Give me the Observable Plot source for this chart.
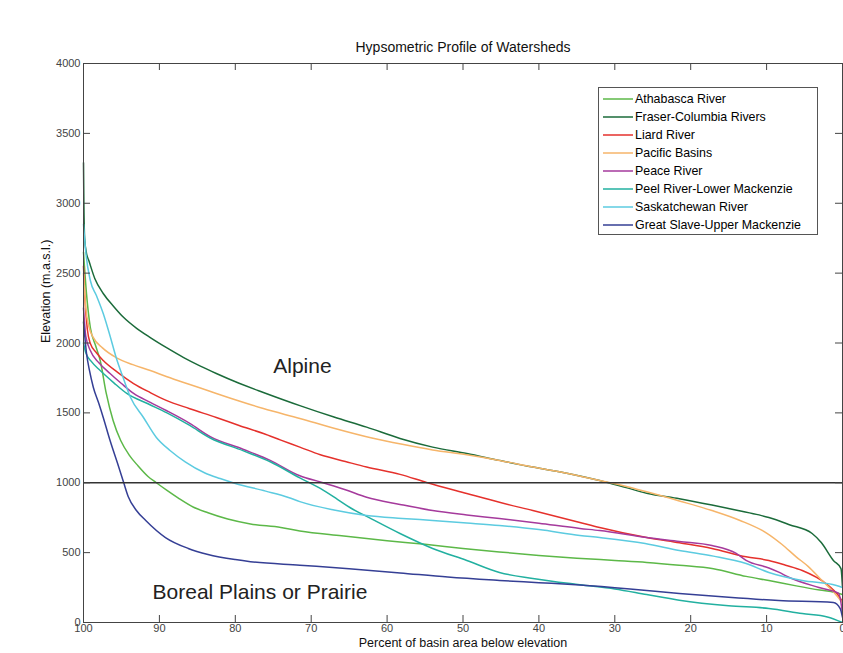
<!DOCTYPE html>
<html>
<head>
<meta charset="utf-8">
<script src="https://cdn.jsdelivr.net/npm/d3@7"></script>
<script src="https://cdn.jsdelivr.net/npm/@observablehq/plot@0.6"></script>
<style>
  body { margin: 0; background: #fff; font-family: "Liberation Sans", Arial, sans-serif; }
  #wrap { position: relative; width: 843px; height: 653px; overflow: hidden; }
  #legend { position: absolute; left: 598px; top: 87px; width: 220px; height: 148px; box-sizing: border-box;
            border: 1px solid #555; background: #fff; }
  .row { position: absolute; left: 0; height: 18px; line-height: 18px; font-size: 12.4px; color: #000; white-space: nowrap; }
  .row svg { position: absolute; left: 4px; top: 0; }
  .row span { position: absolute; left: 36px; top: 0; }
</style>
</head>
<body>
<div id="wrap"><div id="chart"></div><div id="legend"></div></div>
<script>
// ---- data (percent of basin area below elevation, elevation m.a.s.l.) ----
const seriesNames = [
  "Athabasca River", "Fraser-Columbia Rivers", "Liard River", "Pacific Basins",
  "Peace River", "Peel River-Lower Mackenzie", "Saskatchewan River", "Great Slave-Upper Mackenzie"
];
const seriesColors = ["#5cb848", "#1b6b3a", "#e5312c", "#f6b56a", "#a53a9c", "#22b0a0", "#5ccbe0", "#353f95"];

const athabasca = [[100,2650],[99.6,2350],[99.1,2111],[98.4,1980],[97.8,1875],[97,1639],[96.1,1445],[95.1,1302],[94,1200],[92.8,1120],[91.5,1045],[90.4,1000],[89,945],[87.5,890],[85.5,825],[83.6,785],[81,740],[78,705],[74,680],[71.5,655],[66,620],[60,585],[55,560],[50,530],[45.2,505],[40,480],[35,460],[30,444],[25.8,430],[21.5,410],[17,385],[12.7,330],[9.7,300],[6.1,262],[3,232],[1,215],[0,200]];
const fraser = [[100,3290],[99.95,3000],[99.85,2750],[99.6,2640],[99.3,2590],[98.5,2460],[97.4,2354],[96,2260],[94.7,2182],[93,2105],[91.2,2039],[89,1965],[86.8,1896],[84.6,1835],[82.5,1782],[79.5,1712],[76.3,1646],[71.4,1550],[67,1470],[62.7,1398],[58.3,1317],[54,1255],[49.5,1209],[45.2,1160],[40.8,1112],[36,1065],[32,1016],[28.5,965],[25.8,925],[21.5,885],[17.2,840],[13.6,800],[11,770],[9.7,751],[7,700],[4,637],[2.8,572],[1.2,444],[0.2,386],[0,250]];
const liard = [[100,2550],[99.85,2350],[99.5,2100],[99.1,1996],[98.3,1930],[97.4,1875],[95.5,1790],[93.4,1710],[91.2,1645],[89.1,1589],[86,1530],[82.5,1467],[79.5,1410],[76.3,1352],[74,1305],[71.5,1255],[68.8,1200],[65.5,1152],[62.7,1112],[58.3,1060],[54.8,1002],[49.5,923],[45.2,860],[40.8,801],[34.6,716],[32,680],[25.8,608],[21.5,570],[17.2,530],[12.7,470],[9.7,444],[7.5,410],[5.3,372],[2.2,279],[0.5,190],[0,150]];
const pacific = [[100,2500],[99.7,2250],[99.3,2120],[98.7,2039],[97.5,1965],[95.7,1896],[93.5,1845],[91.2,1803],[89,1758],[86.8,1717],[84.6,1678],[82.5,1639],[79.5,1585],[76.3,1531],[71.5,1460],[67,1390],[62,1320],[58,1275],[54,1235],[49.5,1200],[45.2,1160],[40.8,1112],[36,1065],[32,1016],[29,980],[25.8,935],[21.5,870],[17.2,801],[13.5,730],[10,640],[8,560],[6.1,470],[4.5,400],[2.7,300],[1.2,220],[0,140]];
const peace = [[100,2250],[99.7,2050],[99.1,1946],[98,1860],[96.5,1782],[95,1710],[93.4,1639],[91.2,1575],[89.1,1517],[86,1425],[83.3,1330],[79,1240],[75.4,1160],[71.5,1050],[68.8,1005],[65.5,950],[62.7,896],[58.3,845],[54,801],[49.5,770],[45.2,744],[40,710],[34.6,673],[32,658],[25.8,608],[21.5,580],[17.2,551],[14,494],[12.7,444],[9.7,390],[8.4,360],[7,322],[3.1,250],[0.5,208],[0,64]];
const peel = [[100,2000],[99.7,1930],[99,1870],[97.8,1803],[96,1715],[94.3,1639],[91.5,1565],[89,1500],[86,1410],[83.3,1320],[79,1230],[75.4,1150],[71.5,1035],[68.8,960],[66.5,880],[64.9,823],[62,740],[58.3,637],[54,530],[49.5,444],[45.2,358],[40.8,315],[34.6,270],[30,240],[25.8,200],[21.5,160],[15,120],[9.7,100],[5.3,64],[2,40],[0,0]];
const saskatchewan = [[100,2850],[99.7,2650],[99.1,2447],[98.3,2340],[97.4,2211],[96.5,2050],[95.7,1896],[94.7,1740],[93.8,1610],[92.1,1467],[90.4,1324],[88.6,1231],[86.6,1150],[84,1070],[82,1030],[80,995],[76,940],[73,895],[71.5,865],[67,805],[62.7,766],[58,745],[54,730],[49.5,712],[45.2,694],[40,665],[34.6,623],[32,608],[26,565],[21.5,515],[17,475],[12.7,422],[9.7,358],[5.3,300],[0.8,265],[0,250]];
const greatSlave = [[100,2150],[99.6,1925],[99.2,1800],[98.7,1682],[98,1570],[97.4,1467],[96.5,1302],[95.4,1120],[94.7,1000],[94.1,900],[93,800],[91.8,730],[89.2,608],[86.2,530],[83.6,487],[80,450],[78,435],[71.5,410],[65,385],[58.3,355],[52,325],[45.2,301],[40,285],[34.6,268],[28,240],[21.5,208],[15,180],[8.4,157],[1.2,143],[0.3,100],[0,36]];

const xTicks = [100, 90, 80, 70, 60, 50, 40, 30, 20, 10, 0];
const yTicks = [0, 500, 1000, 1500, 2000, 2500, 3000, 3500, 4000];
const thresholdElev = [1000];
const notes = ["Alpine", "Boreal Plains or Prairie"];
const notePct = [75, 90.9];
const noteElev = [1832, 215];
const titleText = "Hypsometric Profile of Watersheds";
const xLabel = "Percent of basin area below elevation";
const yLabel = "Elevation (m.a.s.l.)";

// ---- build table ----
const seriesData = [athabasca, fraser, liard, pacific, peace, peel, saskatchewan, greatSlave];
const rows = seriesNames.flatMap((name, i) => seriesData[i].map(([pct, elev]) => ({ series: name, pct, elev })));
const noteRows = notes.map((t, i) => ({ t, pct: notePct[i], elev: noteElev[i] }));

const W = 843, H = 653, mT = 63, mB = 31, mL = 83, mR = 1;
const frameH = H - mT - mB, frameW = W - mL - mR, tick = 7;
const font = "'Liberation Sans', Arial, Helvetica, sans-serif";

const chart = Plot.plot({
  width: W, height: H,
  marginTop: mT, marginBottom: mB, marginLeft: mL, marginRight: mR,
  style: { fontFamily: font, fontSize: "11px", background: "#fff", color: "#333" },
  x: { domain: [100, 0] },
  y: { domain: [0, 4000] },
  color: { domain: seriesNames, range: seriesColors },
  marks: [
    Plot.line(rows, { x: "pct", y: "elev", stroke: "series", strokeWidth: 1.5, curve: "monotone-x" }),
    Plot.ruleY(thresholdElev, { y: d => d, stroke: "#333", strokeWidth: 1.6 }),
    Plot.frame({ stroke: "#444", strokeWidth: 1 }),
    Plot.ruleX(xTicks, { x: d => d, insetTop: frameH - tick, stroke: "#444" }),
    Plot.ruleX(xTicks, { x: d => d, insetBottom: frameH - tick, stroke: "#444" }),
    Plot.ruleY(yTicks, { y: d => d, insetRight: frameW - tick, stroke: "#444" }),
    Plot.ruleY(yTicks, { y: d => d, insetLeft: frameW - tick, stroke: "#444" }),
    Plot.axisX(xTicks, { tickSize: 0, tickPadding: 2, tickFormat: "d", label: null, fill: "#444", fontSize: 11 }),
    Plot.axisY(yTicks, { tickSize: 0, tickPadding: 3, tickFormat: "d", label: null, fill: "#444", fontSize: 11 }),
    Plot.text(noteRows, { x: "pct", y: "elev", text: "t", textAnchor: "start", fontSize: 21, fill: "#222", fontFamily: font }),
    Plot.text([titleText], { text: d => d, frameAnchor: "top", dy: -21, fontSize: 14, fill: "#111", fontFamily: font }),
    Plot.text([xLabel], { text: d => d, frameAnchor: "bottom", dy: 24, fontSize: 12.5, fill: "#111", fontFamily: font }),
    Plot.text([yLabel], { text: d => d, frameAnchor: "left", dx: -38, rotate: -90, fontSize: 12.5, fill: "#111", fontFamily: font })
  ]
});
document.getElementById("chart").appendChild(chart);

// ---- legend ----
const legend = document.getElementById("legend");
seriesNames.forEach((name, i) => {
  const row = document.createElement("div");
  row.className = "row";
  row.style.top = (2.3 + i * 17.9) + "px";
  row.innerHTML = `<svg width="30" height="18"><line x1="0" y1="9" x2="30" y2="9" stroke="${seriesColors[i]}" stroke-width="1.5"/></svg><span>${name}</span>`;
  legend.appendChild(row);
});
</script>
</body>
</html>
